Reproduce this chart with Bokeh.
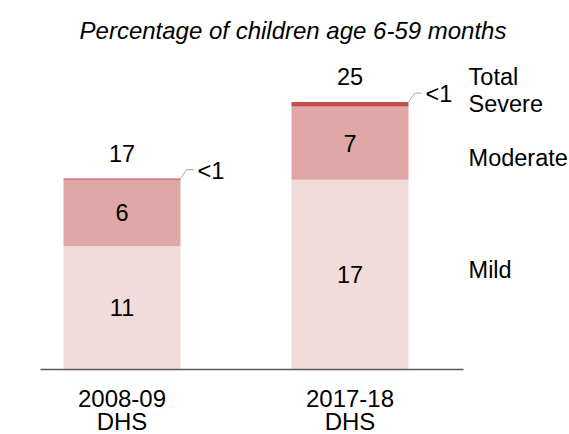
from bokeh.plotting import figure
from bokeh.models import ColumnDataSource, Range1d
from bokeh.core.properties import value
from bokeh.embed import file_html
from bokeh.resources import INLINE

# ---- data ----
surveys = ["2008-09\nDHS", "2017-18\nDHS"]
mild = [11.1, 17.1]
moderate = [6.0, 6.6]
severe = [0.1, 0.4]
mild_labels = ["11", "17"]
moderate_labels = ["6", "7"]
severe_labels = ["<1", "<1"]
total_labels = ["17", "25"]
legend_names = ["Total", "Severe", "Moderate", "Mild"]
title_text = "Percentage of children age 6-59 months"

C_MILD = "#F2DCDB"
C_MOD = "#E0A7A6"
C_SEV = "#C4504E"
FONT = "Liberation Sans"
FS = "23.5px"

W, H = 569, 434
xpos = list(range(len(surveys)))
total = [a + b + c for a, b, c in zip(mild, moderate, severe)]
mod_top = [a + b for a, b in zip(mild, moderate)]

PX_X = 228.0          # pixels per category step
PX_Y = 11.1           # pixels per percentage point
BASE = 369            # pixel row of the baseline
x_start = -121.5 / PX_X
x_end = x_start + W / PX_X
y_start = -(H - BASE) / PX_Y
y_end = BASE / PX_Y

p = figure(width=W, height=H, output_backend="svg", toolbar_location=None,
           x_range=Range1d(x_start, x_end), y_range=Range1d(y_start, y_end),
           x_axis_location=None, y_axis_location=None,
           min_border_left=0, min_border_right=0, min_border_top=0, min_border_bottom=0)
p.outline_line_color = None
p.grid.visible = False
p.background_fill_color = "white"
p.border_fill_color = "white"

bw = 117 / PX_X
src = ColumnDataSource(dict(x=xpos, mild=mild, mod_top=mod_top, total=total,
                            mild_mid=[m / 2 for m in mild],
                            mod_mid=[a + b / 2 for a, b in zip(mild, moderate)],
                            ml=mild_labels, mdl=moderate_labels, tl=total_labels))
p.vbar(x="x", bottom=0, top="mild", width=bw, source=src, fill_color=C_MILD, line_color=None)
p.vbar(x="x", bottom="mild", top="mod_top", width=bw, source=src, fill_color=C_MOD, line_color=None)
p.vbar(x="x", bottom="mod_top", top="total", width=bw, source=src, fill_color=C_SEV, line_color=None)

tkw = dict(text_font=value(FONT), text_font_size=FS, text_color="black",
           text_align="center", text_baseline="middle")
p.text(x="x", y="mild_mid", text="ml", source=src, **tkw)
p.text(x="x", y="mod_mid", text="mdl", source=src, **tkw)
p.text(x="x", y="total", text="tl", source=src, y_offset=-25, **tkw)

# leader lines for severe labels
edge = [x + bw / 2 for x in xpos]
dx1, dx2, dy = 6 / PX_X, 13 / PX_X, 0.8
p.multi_line(xs=[[e, e + dx1, e + dx2] for e in edge],
             ys=[[t, t + dy, t + dy] for t in total],
             line_color="#A6A6A6", line_width=1)
p.text(x=[e + 17 / PX_X for e in edge], y=[t + dy - 0.1 for t in total], text=severe_labels,
       text_font=value(FONT), text_font_size=FS, text_color="black",
       text_align="left", text_baseline="middle")

# right-side category names next to second bar
lx = xpos[1] + 0.52
ly = [total[1], total[1], mild[1] + moderate[1] * 0.3, mild[1] * 0.525]
loff = [-25, 2, 0, 0]
p.text(x=[lx] * 4, y=ly, text=legend_names, y_offset=loff,
       text_font=value(FONT), text_font_size=FS, text_color="black",
       text_align="left", text_baseline="middle")

# title
p.text(x=[x_start + 292.5 / PX_X], y=[y_end], text=[title_text], y_offset=30,
       text_font=value(FONT), text_font_size="24px", text_font_style="italic",
       text_color="black", text_align="center", text_baseline="middle")

# category axis: baseline and two-line labels
ax_left = xpos[0] - 81.5 / PX_X
ax_right = xpos[-1] + 113.5 / PX_X
p.segment(x0=[ax_left], y0=[0], x1=[ax_right], y1=[0], line_color="#595959", line_width=1.5)
line1 = [s.split("\n")[0] for s in surveys]
line2 = [s.split("\n")[1] for s in surveys]
ckw = dict(text_font=value(FONT), text_font_size="24px", text_color="black",
           text_align="center", text_baseline="middle")
p.text(x=xpos, y=[0] * len(xpos), text=line1, y_offset=29, **ckw)
p.text(x=xpos, y=[0] * len(xpos), text=line2, y_offset=52, **ckw)

open("out.html", "w").write(file_html(p, INLINE))
